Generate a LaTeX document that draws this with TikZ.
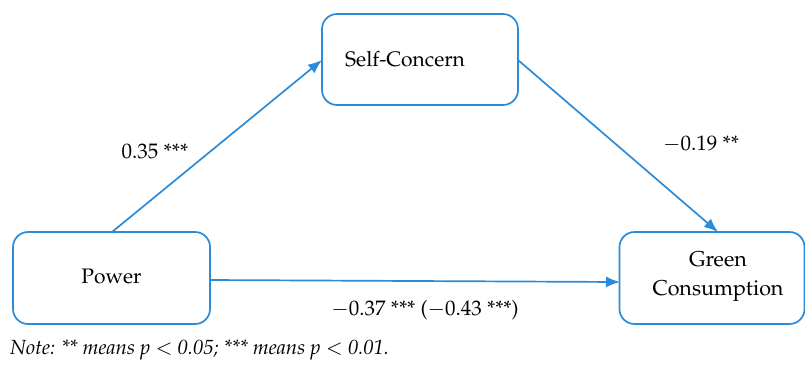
\documentclass[tikz,border=0pt]{standalone}
\usepackage[T1]{fontenc}
\usepackage{mathpazo}
\usetikzlibrary{arrows.meta}
\definecolor{lineblue}{HTML}{2B8BD8}
\begin{document}
\begin{tikzpicture}[x=1pt,y=1pt,
  box/.style={draw=lineblue,line width=1.7pt,rounded corners=15pt,fill=white,inner sep=0pt},
  lbl/.style={font=\fontsize{21}{25}\selectfont,inner sep=0pt},
  conn/.style={draw=lineblue,line width=1.7pt,-{Latex[length=14pt,width=11pt]}}]
\useasboundingbox (0,0) rectangle (805,-365);
\node[box,minimum width=197pt,minimum height=92pt] (pw) at (111.5,-278) {};
\node[lbl] (pwt) at (111.5,-276) {Power};
\node[box,minimum width=196pt,minimum height=91pt] (sc) at (420,-59.5) {};
\node[lbl] (sct) at (405,-59) {Self-Concern};
\node[box,minimum width=185pt,minimum height=92pt] (gc) at (712,-278) {};
\node[lbl,align=center,font=\fontsize{21.5}{25}\selectfont] (gct) at (718,-277) {Green\\[4pt]Consumption};
\coordinate (a1) at (112,-232);
\coordinate (a2) at (322,-60);
\coordinate (b1) at (518,-60);
\coordinate (b2) at (718,-232);
\coordinate (c1) at (210,-280);
\coordinate (c2) at (620,-282);
\draw[conn] (a1) -- (a2);
\draw[conn] (b1) -- (b2);
\draw[conn] (c1) -- (c2);
\node[lbl] (l1) at (155,-151) {0.35 ***};
\node[lbl] (l2) at (701,-144) {$-$0.19 **};
\node[lbl] (l3) at (425,-310) {$-$0.37 *** ($-$0.43 ***)};
\node[inner sep=0pt,anchor=west,font=\fontsize{20.5}{24}\selectfont\itshape] (note) at (10,-350) {Note: ** means p $<$ 0.05; *** means p $<$ 0.01.};
\end{tikzpicture}
\end{document}
